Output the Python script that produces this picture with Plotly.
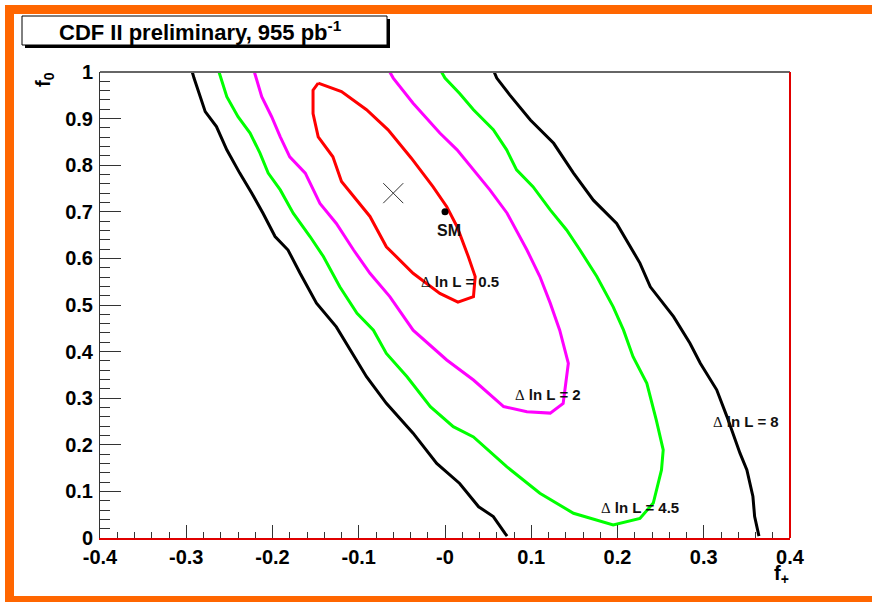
import plotly.graph_objects as go

# ---------------- data (f+, f0) ----------------
red_x = [-0.147, -0.120, -0.091, -0.066, -0.039, -0.014, 0.002, 0.014, 0.027, 0.035, 0.033, 0.015,
         -0.006, -0.037, -0.068, -0.087, -0.120, -0.130, -0.147, -0.153, -0.153, -0.147]
red_y = [0.976, 0.958, 0.919, 0.876, 0.815, 0.754, 0.711, 0.668, 0.604, 0.561, 0.518, 0.506,
         0.525, 0.568, 0.625, 0.690, 0.765, 0.818, 0.861, 0.911, 0.961, 0.976]

mag_x = [-0.221, -0.219, -0.2125, -0.201, -0.191, -0.180, -0.162, -0.145, -0.126, -0.106, -0.087,
         -0.064, -0.037, 0.002, 0.033, 0.068, 0.095, 0.122, 0.137, 0.143, 0.133, 0.122, 0.110,
         0.095, 0.072, 0.052, 0.033, 0.014, -0.006, -0.037, -0.060, -0.064]
mag_y = [1.0, 0.987, 0.947, 0.904, 0.861, 0.818, 0.783, 0.718, 0.675, 0.618, 0.568,
         0.518, 0.446, 0.382, 0.339, 0.282, 0.271, 0.268, 0.289, 0.375, 0.446, 0.504, 0.561,
         0.618, 0.697, 0.747, 0.790, 0.833, 0.869, 0.933, 0.987, 1.0]

grn_x = [-0.262, -0.260, -0.253, -0.240, -0.226, -0.2145, -0.205, -0.191, -0.176, -0.1565, -0.141,
         -0.122, -0.102, -0.083, -0.068, -0.044, -0.017, 0.0096, 0.033, 0.0715, 0.110, 0.149,
         0.195, 0.226, 0.2415, 0.251, 0.253, 0.245, 0.234, 0.218, 0.207, 0.195, 0.176, 0.1565,
         0.141, 0.122, 0.102, 0.083, 0.0715, 0.056, 0.033, 0.017, 0.0, -0.004]
grn_y = [1.0, 0.987, 0.947, 0.904, 0.869, 0.826, 0.783, 0.747, 0.697, 0.647, 0.604,
         0.539, 0.482, 0.446, 0.396, 0.346, 0.282, 0.239, 0.217, 0.153, 0.096, 0.053,
         0.028, 0.042, 0.075, 0.146, 0.189, 0.253, 0.332, 0.389, 0.446, 0.496, 0.561, 0.618,
         0.661, 0.704, 0.754, 0.790, 0.833, 0.876, 0.919, 0.954, 0.987, 1.0]

blk1_x = [-0.293, -0.291, -0.278, -0.265, -0.253, -0.238, -0.224, -0.211, -0.197, -0.182, -0.168,
          -0.149, -0.126, -0.110, -0.091, -0.068, -0.037, -0.0096, 0.017, 0.039, 0.056, 0.0696, 0.072]
blk1_y = [1.0, 0.987, 0.915, 0.883, 0.833, 0.783, 0.740, 0.697, 0.647, 0.618, 0.568,
          0.504, 0.453, 0.403, 0.346, 0.289, 0.225, 0.160, 0.117, 0.067, 0.046, 0.010, 0.004]

blk2_x = [0.057, 0.060, 0.075, 0.099, 0.126, 0.149, 0.172, 0.199, 0.226, 0.238, 0.265, 0.284,
          0.296, 0.315, 0.327, 0.342, 0.350, 0.357, 0.359, 0.363, 0.364]
blk2_y = [1.0, 0.987, 0.951, 0.897, 0.847, 0.783, 0.725, 0.675, 0.590, 0.539, 0.475, 0.418,
          0.375, 0.318, 0.260, 0.182, 0.146, 0.089, 0.046, 0.010, 0.004]

best_fit = (-0.060, 0.740)
sm_point = (0.0, 0.700)

x_ticks = [-0.4, -0.3, -0.2, -0.1, 0.0, 0.1, 0.2, 0.3, 0.4]
x_ticklabels = ["-0.4", "-0.3", "-0.2", "-0.1", "-0", "0.1", "0.2", "0.3", "0.4"]
y_ticks = [0, 0.1, 0.2, 0.3, 0.4, 0.5, 0.6, 0.7, 0.8, 0.9, 1.0]
y_ticklabels = ["0", "0.1", "0.2", "0.3", "0.4", "0.5", "0.6", "0.7", "0.8", "0.9", "1"]

contour_labels = [
    ("0.5", 0.0174, 0.5515),
    ("2", 0.1194, 0.309),
    ("4.5", 0.226, 0.0665),
    ("8", 0.349, 0.249),
]

# ---------------- figure ----------------
W, H = 872, 602
L, R, T, B = 100, 82, 72, 64
PW, PH = W - L - R, H - T - B


def px(xp):
    return (xp - L) / PW


def py(yp):
    return (H - B - yp) / PH


fig = go.Figure()
lw = 3
for xs, ys, col in [(blk1_x, blk1_y, "black"), (blk2_x, blk2_y, "black"),
                    (grn_x, grn_y, "#00ff00"), (mag_x, mag_y, "#ff00ff"),
                    (red_x, red_y, "#ff0000")]:
    fig.add_trace(go.Scatter(x=xs, y=ys, mode="lines", line=dict(color=col, width=lw),
                             hoverinfo="skip", showlegend=False))

fig.add_trace(go.Scatter(x=[best_fit[0]], y=[best_fit[1]], mode="markers",
                         marker=dict(symbol="x-thin", size=20, line=dict(color="#333333", width=1)),
                         showlegend=False))
fig.add_trace(go.Scatter(x=[sm_point[0]], y=[sm_point[1]], mode="markers",
                         marker=dict(symbol="circle", size=7, color="black"),
                         showlegend=False))

FAM = "Liberation Sans, Arial, sans-serif"
lab_font = dict(family=FAM, size=15, color="#111111", weight="bold")
ann = []
for val, xv, yv in contour_labels:
    ann.append(dict(x=xv, y=yv, xref="x", yref="y", showarrow=False,
                    xanchor="center", yanchor="middle",
                    text="<span style='font-family:Liberation Serif;font-weight:normal'>Δ</span> ln L = " + val,
                    font=lab_font))
ann.append(dict(x=sm_point[0] + 0.0046, y=sm_point[1] - 0.040, xref="x", yref="y", showarrow=False,
                xanchor="center", yanchor="middle", text="SM",
                font=dict(family=FAM, size=16, color="#111111", weight="bold")))

# title box text
ann.append(dict(x=px(200), y=py(31), xref="paper", yref="paper", showarrow=False,
                xanchor="center", yanchor="middle",
                text="CDF II preliminary, 955 pb<sup>-1</sup>",
                font=dict(family=FAM, size=22, color="black", weight="bold")))
# axis titles
ann.append(dict(x=px(44), y=py(80), xref="paper", yref="paper", showarrow=False, textangle=-90,
                xanchor="center", yanchor="middle",
                text="f<sub>0</sub>",
                font=dict(family=FAM, size=20, color="black", weight="bold")))
ann.append(dict(x=px(781), y=py(574), xref="paper", yref="paper", showarrow=False,
                xanchor="center", yanchor="middle",
                text="f<sub>+</sub>",
                font=dict(family=FAM, size=20, color="black", weight="bold")))

orange = "#ff6600"
shapes = [
    # orange frame
    dict(type="rect", xref="paper", yref="paper", x0=px(5), x1=px(14), y0=py(5), y1=py(602),
         fillcolor=orange, line=dict(width=0), layer="below"),
    dict(type="rect", xref="paper", yref="paper", x0=px(5), x1=px(872), y0=py(5), y1=py(14),
         fillcolor=orange, line=dict(width=0), layer="below"),
    dict(type="rect", xref="paper", yref="paper", x0=px(5), x1=px(872), y0=py(596), y1=py(602),
         fillcolor=orange, line=dict(width=0), layer="below"),
    # title box shadow and box
    dict(type="rect", xref="paper", yref="paper", x0=px(25), x1=px(390), y0=py(19), y1=py(48),
         fillcolor="black", line=dict(width=0)),
    dict(type="rect", xref="paper", yref="paper", x0=px(22), x1=px(387), y0=py(16), y1=py(45),
         fillcolor="white", line=dict(color="black", width=1)),
    # frame: top grey, right red
    dict(type="line", xref="paper", yref="paper", x0=0, x1=1, y0=1, y1=1,
         line=dict(color="#666666", width=2)),
    dict(type="line", xref="paper", yref="paper", x0=1, x1=1, y0=0, y1=1,
         line=dict(color="#e00000", width=2)),
]

tick_font = dict(family=FAM, size=20, color="black", weight="bold")
fig.update_layout(
    width=W, height=H,
    margin=dict(l=L, r=R, t=T, b=B),
    paper_bgcolor="white", plot_bgcolor="white",
    showlegend=False,
    annotations=ann, shapes=shapes,
    xaxis=dict(range=[-0.4, 0.4], tickmode="array", tickvals=x_ticks, ticktext=x_ticklabels,
               ticks="inside", ticklen=13, tickwidth=1, tickcolor="#333333",
               minor=dict(tickmode="linear", tick0=0, dtick=0.02, ticks="inside", ticklen=6,
                          tickwidth=1, tickcolor="#333333", showgrid=False),
               showgrid=False, zeroline=False, showline=True, linecolor="#e00000", linewidth=2,
               tickfont=tick_font, ticklabelstandoff=0),
    yaxis=dict(range=[0, 1], tickmode="array", tickvals=y_ticks, ticktext=y_ticklabels,
               ticks="inside", ticklen=21, tickwidth=1, tickcolor="#333333",
               minor=dict(tickmode="linear", tick0=0, dtick=0.02, ticks="inside", ticklen=10,
                          tickwidth=1, tickcolor="#333333", showgrid=False),
               showgrid=False, zeroline=False, showline=True, linecolor="#333333", linewidth=1,
               tickfont=tick_font, ticklabelstandoff=2),
)

fig.write_html("out.html")
